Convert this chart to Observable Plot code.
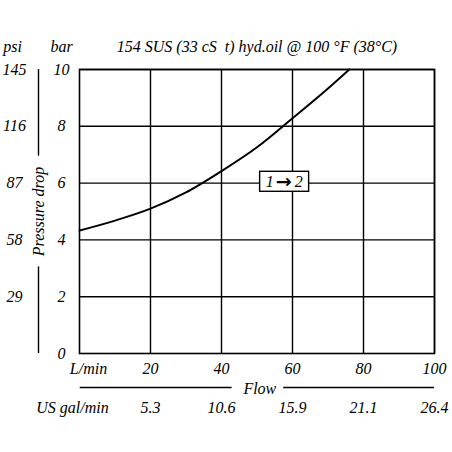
<!DOCTYPE html>
<html>
<head>
<meta charset="utf-8">
<script src="https://cdn.jsdelivr.net/npm/d3@7"></script>
<script src="https://cdn.jsdelivr.net/npm/@observablehq/plot@0.6"></script>
<style>
  html, body { margin: 0; padding: 0; background: #fff; }
  svg { display: block; }
</style>
</head>
<body>
<div id="chart"></div>
<script>
// Data
const flowTicks = [20, 40, 60, 80, 100];
const galTicks = ["5.3", "10.6", "15.9", "21.1", "26.4"];
const barTicks = [0, 2, 4, 6, 8, 10];
const psiTicks = ["29", "58", "87", "116", "145"];
const psiBar = [2, 4, 6, 8, 10];
const curveFlow = [0, 10, 20, 30, 40, 50, 60, 70, 76];
const curveBar  = [4.33, 4.68, 5.1, 5.67, 6.42, 7.26, 8.28, 9.33, 10.0];
const title = "154 SUS (33 cS  t) hyd.oil @ 100 °F (38°C)";

const curve = curveFlow.map((f, i) => ({flow: f, bar: curveBar[i]}));
const psiData = psiBar.map((b, i) => ({bar: b, label: psiTicks[i]}));
const galData = flowTicks.map((f, i) => ({flow: f, label: galTicks[i]}));

const font = "'Liberation Serif', 'DejaVu Serif', serif";
const lab = {x: 57.5, y: 6.05, fill: "#000", textAnchor: "middle", lineAnchor: "middle"};

const plot = Plot.plot({
  width: 452,
  height: 452,
  marginLeft: 79,
  marginRight: 18,
  marginTop: 69,
  marginBottom: 99,
  style: {fontFamily: font, fontSize: "16px", fontStyle: "italic", background: "#fff", color: "#000"},
  x: {domain: [0, 100], axis: null},
  y: {domain: [0, 10], axis: null},
  marks: [
    Plot.ruleX(flowTicks, {stroke: "#000", strokeWidth: 1.4}),
    Plot.ruleY(barTicks.filter(d => d > 0), {stroke: "#000", strokeWidth: 1.4}),
    Plot.frame({stroke: "#000", strokeWidth: 1.6}),
    Plot.line(curve, {x: "flow", y: "bar", curve: "monotone-x", stroke: "#000", strokeWidth: 2}),
    // 1 -> 2 label (box added below)
    Plot.text(["1"], {...lab, dx: -14, className: "flowlabel"}),
    Plot.text(["\u2192"], {...lab, dx: 0, fontWeight: "bold", fontSize: 19, fontStyle: "normal", fontFamily: "'DejaVu Sans'", className: "flowlabel"}),
    Plot.text(["2"], {...lab, dx: 15, className: "flowlabel"}),
    // bar tick labels
    Plot.text(barTicks, {x: 0, y: d => d, text: d => String(d), dx: -18, textAnchor: "middle", lineAnchor: "middle", fill: "#000"}),
    // psi tick labels
    Plot.text(psiData, {x: 0, y: "bar", text: "label", dx: -65, textAnchor: "middle", lineAnchor: "middle", fill: "#000"}),
    // flow tick labels (L/min)
    Plot.text(flowTicks, {x: d => d, y: 0, text: d => String(d), dy: 15, textAnchor: "middle", lineAnchor: "middle", fill: "#000"}),
    Plot.text(["L/min"], {x: 0, y: 0, dx: 9, dy: 15, textAnchor: "middle", lineAnchor: "middle", fill: "#000"}),
    // US gal/min labels
    Plot.text(galData, {x: "flow", y: 0, text: "label", dy: 54, textAnchor: "middle", lineAnchor: "middle", fill: "#000"}),
    Plot.text(["US gal/min"], {x: 0, y: 0, dx: -7, dy: 54, textAnchor: "middle", lineAnchor: "middle", fill: "#000"}),
    // Flow axis label with lines
    Plot.text(["Flow"], {x: 50.8, y: 0, dy: 35, textAnchor: "middle", lineAnchor: "middle", fill: "#000"}),
    Plot.ruleY([0], {x1: 0.2, x2: 43, dy: 34, stroke: "#000", strokeWidth: 1.4}),
    Plot.ruleY([0], {x1: 57.5, x2: 100, dy: 34, stroke: "#000", strokeWidth: 1.4}),
    // Pressure drop label with lines
    Plot.text(["Pressure drop"], {x: 0, y: 5, dx: -41, rotate: -90, textAnchor: "middle", lineAnchor: "middle", fill: "#000"}),
    Plot.ruleX([0], {y1: 0, y2: 3.05, dx: -41, stroke: "#000", strokeWidth: 1.4}),
    Plot.ruleX([0], {y1: 6.95, y2: 10, dx: -41, stroke: "#000", strokeWidth: 1.4}),
    // headings
    Plot.text(["bar"], {x: 0, y: 10, dx: -18, dy: -23, textAnchor: "middle", lineAnchor: "middle", fill: "#000"}),
    Plot.text(["psi"], {x: 0, y: 10, dx: -67, dy: -23, textAnchor: "middle", lineAnchor: "middle", fill: "#000"}),
    Plot.text([title], {frameAnchor: "top", dy: -23, textAnchor: "middle", lineAnchor: "middle", fill: "#000"})
  ]
});

document.getElementById("chart").appendChild(plot);
// White box with black border behind the "1 -> 2" label, sized from the rendered texts
const svgRect = plot.getBoundingClientRect();
const parts = [...plot.querySelectorAll(".flowlabel text")];
if (parts.length) {
  let x0 = Infinity, x1 = -Infinity;
  parts.forEach(t => {
    const b = t.getBoundingClientRect();
    x0 = Math.min(x0, b.left); x1 = Math.max(x1, b.right);
  });
  const cy = parts[0].getBoundingClientRect();
  const mid = (cy.top + cy.bottom) / 2 - svgRect.top;
  const r = document.createElementNS("http://www.w3.org/2000/svg", "rect");
  r.setAttribute("x", x0 - svgRect.left - 6);
  r.setAttribute("y", mid - 10);
  r.setAttribute("width", x1 - x0 + 12);
  r.setAttribute("height", 20);
  r.setAttribute("fill", "#fff");
  r.setAttribute("stroke", "#000");
  r.setAttribute("stroke-width", 1.4);
  const g = parts[0].closest(".flowlabel");
  g.parentNode.insertBefore(r, g);
}
</script>
</body>
</html>
